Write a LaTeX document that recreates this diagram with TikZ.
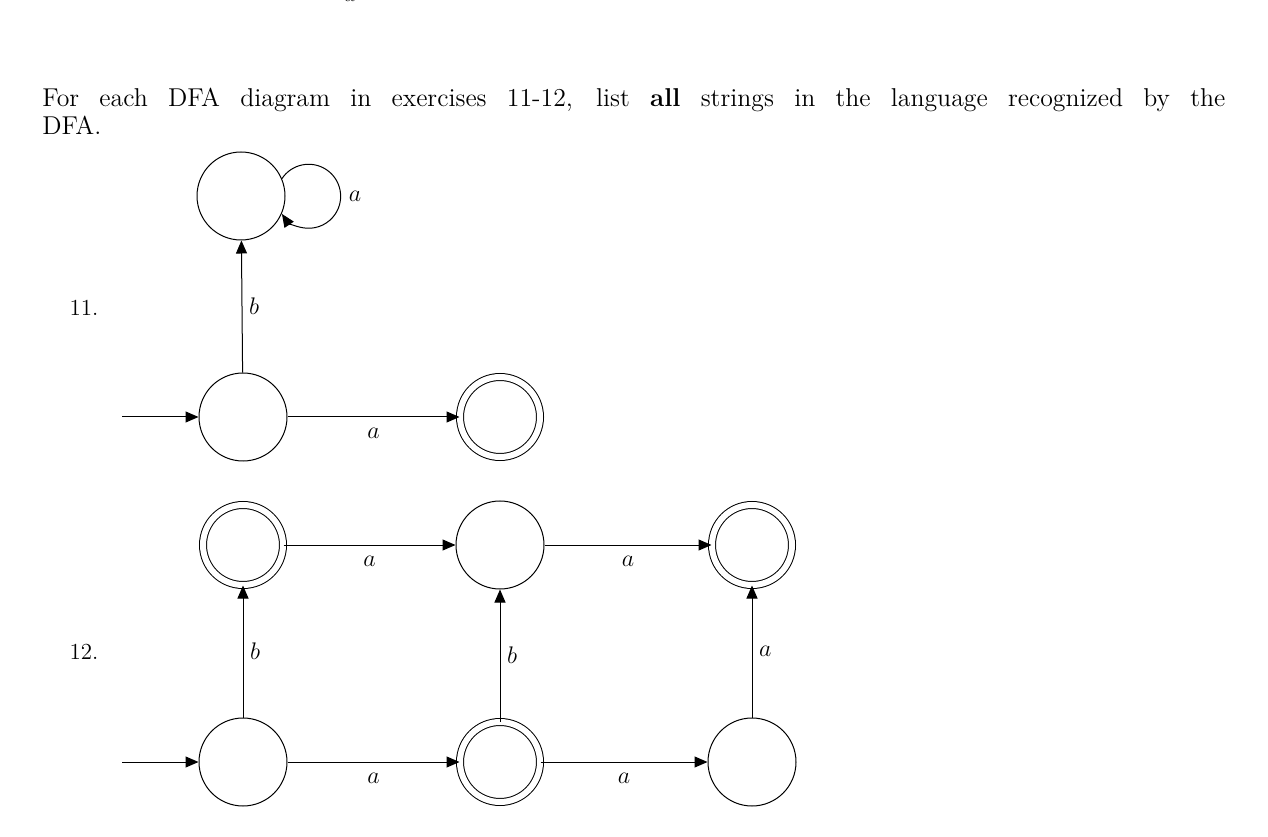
\documentclass[tikz,border=0pt]{standalone}
\usetikzlibrary{arrows.meta}
\begin{document}
\begin{tikzpicture}[x=0.5pt,y=0.5pt,
  st/.style={circle,draw,line width=0.5pt,minimum size=44pt,inner sep=0pt},
  acc/.style={st,double,double distance=3pt,minimum size=40pt},
  tr/.style={-{Triangle[length=6.5pt,width=5.5pt]},line width=0.5pt},
  lab/.style={font=\fontsize{11.5}{14}\selectfont}]
\useasboundingbox (0,0) rectangle (1268,836);
\node[lab] (frag) at (350,840) {$a$};
\node[font=\fontsize{12.9}{14}\selectfont,anchor=north west,text width=591.5pt,align=justify,inner sep=0pt] (intro) at (42,748)
 {For each DFA diagram in exercises 11-12, list \textbf{all} strings in the language recognized by the\linebreak DFA.};
\node[lab] (n11) at (84,528) {11.};
\node[lab] (n12) at (84,184) {12.};
% problem 11
\node[st] (d) at (241,640) {};
\node[st] (s) at (243,419) {};
\node[acc] (f) at (500,419) {};
\coordinate (in1) at (122,419);
\draw[tr] (in1) -- (s);
\draw[tr] (s) -- node[lab,right,pos=0.5] {$b$} (d);
\draw[tr] (s) -- node[lab,below=2pt] {$a$} (f);
\draw[tr] (d.23.7) arc[start angle=146.5,end angle=-146.5,radius=16pt];
\node[lab] (la) at (355,640) {$a$};
% problem 12
\node[acc] (a1) at (243,291) {};
\node[st] (a2) at (500,291) {};
\node[acc] (a3) at (752,291) {};
\node[st] (b1) at (243,74) {};
\node[acc] (b2) at (500,74) {};
\node[st] (b3) at (752,74) {};
\coordinate (in2) at (122,74);
\draw[tr] (in2) -- (b1);
\draw[tr] (a1) -- node[lab,below=2pt] {$a$} (a2);
\draw[tr] (a2) -- node[lab,below=2pt] {$a$} (a3);
\draw[tr] (b1) -- node[lab,below=2pt] {$a$} (b2);
\draw[tr] (b2) -- node[lab,below=2pt] {$a$} (b3);
\draw[tr] (b1) -- node[lab,right] {$b$} (a1);
\draw[tr] (b2) -- node[lab,right] {$b$} (a2);
\draw[tr] (b3) -- node[lab,right] {$a$} (a3);
\end{tikzpicture}
\end{document}
